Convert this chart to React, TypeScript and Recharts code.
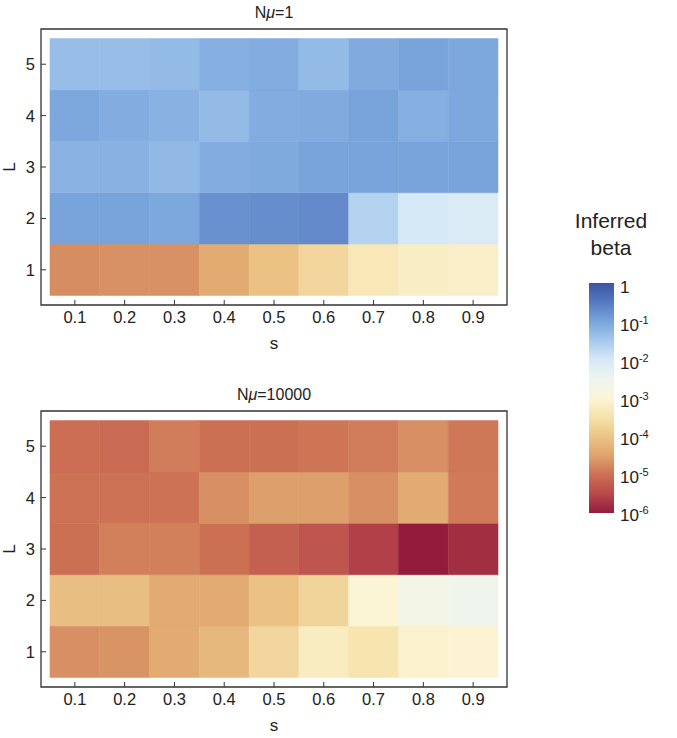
import { ScatterChart, Scatter, XAxis, YAxis, ReferenceArea } from 'recharts';

const FONT = '"Liberation Sans", Arial, Helvetica, sans-serif';

const S_VALUES = [0.1, 0.2, 0.3, 0.4, 0.5, 0.6, 0.7, 0.8, 0.9];
const L_VALUES = [1, 2, 3, 4, 5];

// log10(inferred beta), one row per L (1..5), one column per s
const LOG_BETA_NMU1 = [
  [-4.72, -4.68, -4.68, -4.4, -4.05, -3.7, -3.35, -3.2, -3.15],
  [-1.0, -1.0, -1.05, -0.78, -0.74, -0.7, -1.65, -2.0, -2.1],
  [-1.2, -1.18, -1.28, -1.12, -1.08, -1.0, -1.0, -1.0, -1.0],
  [-1.05, -1.12, -1.18, -1.3, -1.12, -1.1, -1.0, -1.15, -1.05],
  [-1.35, -1.35, -1.3, -1.15, -1.12, -1.3, -1.1, -1.0, -1.05],
];

const LOG_BETA_NMU10000 = [
  [-4.7, -4.65, -4.4, -4.2, -3.7, -3.25, -3.45, -3.1, -3.05],
  [-4.1, -4.1, -4.4, -4.4, -4.05, -3.75, -3.0, -2.7, -2.55],
  [-5.0, -4.85, -4.85, -5.0, -5.2, -5.35, -5.6, -6.0, -5.8],
  [-4.98, -4.98, -4.98, -4.7, -4.55, -4.55, -4.7, -4.4, -4.9],
  [-5.02, -5.08, -4.88, -5.0, -5.0, -4.95, -4.88, -4.7, -4.92],
];

const LEGEND_EXPONENTS = [0, -1, -2, -3, -4, -5, -6];

// colour map: log10 value -> colour
const COLOR_STOPS: [number, string][] = [
  [-6, '#931c3c'],
  [-5.5, '#b8494b'],
  [-5, '#cc7054'],
  [-4.5, '#dfa46d'],
  [-4, '#ecc587'],
  [-3.5, '#f6e2ab'],
  [-3, '#fbf5d6'],
  [-2.5, '#eef5ef'],
  [-2, '#d6e9f7'],
  [-1.5, '#a6c9ee'],
  [-1, '#78a4db'],
  [-0.5, '#5679c0'],
  [0, '#3c55a2'],
];

function hexToRgb(h: string) {
  const n = parseInt(h.slice(1), 16);
  return [(n >> 16) & 255, (n >> 8) & 255, n & 255];
}

function colorFor(v: number) {
  const c = Math.max(-6, Math.min(0, v));
  for (let i = 0; i < COLOR_STOPS.length - 1; i++) {
    const [v0, c0] = COLOR_STOPS[i];
    const [v1, c1] = COLOR_STOPS[i + 1];
    if (c >= v0 && c <= v1) {
      const t = (c - v0) / (v1 - v0);
      const a = hexToRgb(c0);
      const b = hexToRgb(c1);
      const m = a.map((x, k) => Math.round(x + (b[k] - x) * t));
      return `rgb(${m[0]},${m[1]},${m[2]})`;
    }
  }
  return COLOR_STOPS[COLOR_STOPS.length - 1][1];
}

const X_DOMAIN = [0.032, 0.968];
const Y_DOMAIN = [0.315, 5.685];

function XTick(props: any) {
  const { x, y, payload } = props;
  return (
    <g>
      <line x1={x} x2={x} y1={y} y2={y - 5} stroke="#333" strokeWidth={1} />
      <text x={x} y={y + 18} textAnchor="middle" fontSize={16.5} fill="#222" fontFamily={FONT}>
        {payload.value}
      </text>
    </g>
  );
}

function YTick(props: any) {
  const { x, y, payload } = props;
  return (
    <g>
      <line x1={x} x2={x + 5} y1={y} y2={y} stroke="#333" strokeWidth={1} />
      <text x={x - 6} y={y + 6} textAnchor="end" fontSize={16.5} fill="#222" fontFamily={FONT}>
        {payload.value}
      </text>
    </g>
  );
}

function Heatmap({ values }: { values: number[][] }) {
  const cells = L_VALUES.flatMap((L, r) =>
    S_VALUES.map((s, c) => ({ s, L, v: values[r][c] }))
  );
  return (
    <ScatterChart width={520} height={360} margin={{ top: 29, right: 13, left: 11, bottom: 25 }}>
      <XAxis
        type="number"
        dataKey="s"
        domain={X_DOMAIN}
        ticks={S_VALUES}
        allowDataOverflow
        axisLine={false}
        tickLine={false}
        tickSize={0}
        tickMargin={0}
        height={30}
        tick={<XTick />}
        interval={0}
      />
      <YAxis
        type="number"
        dataKey="L"
        domain={Y_DOMAIN}
        ticks={L_VALUES}
        allowDataOverflow
        axisLine={false}
        tickLine={false}
        tickSize={0}
        tickMargin={0}
        width={30}
        tick={<YTick />}
        interval={0}
      />
      {cells.map((d) => (
        <ReferenceArea
          key={`${d.s}-${d.L}`}
          x1={d.s - 0.05}
          x2={d.s + 0.05}
          y1={d.L - 0.5}
          y2={d.L + 0.5}
          fill={colorFor(d.v)}
          fillOpacity={1}
          stroke={colorFor(d.v)}
          strokeWidth={0.5}
        />
      ))}
      <ReferenceArea
        x1={X_DOMAIN[0]}
        x2={X_DOMAIN[1]}
        y1={Y_DOMAIN[0]}
        y2={Y_DOMAIN[1]}
        fill="none"
        fillOpacity={0}
        stroke="#333"
        strokeWidth={1.3}
      />
      <Scatter data={cells} isAnimationActive={false} shape={() => <g />} />
    </ScatterChart>
  );
}

function Titles() {
  const txt = { fontFamily: FONT, fill: '#222' };
  return (
    <svg width={677} height={738} style={{ position: 'absolute', left: 0, top: 0, pointerEvents: 'none' }}>
      <text x={274} y={18} textAnchor="middle" fontSize={16} {...txt}>
        N<tspan fontStyle="italic">μ</tspan>=1
      </text>
      <text x={274} y={349} textAnchor="middle" fontSize={17} {...txt}>s</text>
      <text transform="translate(15,167) rotate(-90)" textAnchor="middle" fontSize={17} {...txt}>L</text>

      <text x={274} y={400} textAnchor="middle" fontSize={16} {...txt}>
        N<tspan fontStyle="italic">μ</tspan>=10000
      </text>
      <text x={274} y={731} textAnchor="middle" fontSize={17} {...txt}>s</text>
      <text transform="translate(15,549) rotate(-90)" textAnchor="middle" fontSize={17} {...txt}>L</text>

      <text x={611} y={228} textAnchor="middle" fontSize={21} {...txt}>Inferred</text>
      <text x={611} y={255} textAnchor="middle" fontSize={21} {...txt}>beta</text>

      <defs>
        <linearGradient id="betaGrad" x1="0" y1="1" x2="0" y2="0">
          {COLOR_STOPS.map(([v, c]) => (
            <stop key={v} offset={(v + 6) / 6} stopColor={c} />
          ))}
        </linearGradient>
      </defs>
      <rect x={589} y={283} width={25} height={230} fill="url(#betaGrad)" />
      {LEGEND_EXPONENTS.map((e, i) => (
        <text key={e} x={620} y={287 + i * 38 + 6} fontSize={17} {...txt}>
          {e === 0 ? '1' : '10'}
          {e !== 0 && (
            <tspan dy={-7} fontSize={11}>
              {String(e)}
            </tspan>
          )}
        </text>
      ))}
    </svg>
  );
}

export default function App() {
  return (
    <div style={{ position: 'absolute', left: 0, top: 0, width: 677, height: 738, background: '#fff' }}>
      <div style={{ position: 'absolute', left: 0, top: 0 }}>
        <Heatmap values={LOG_BETA_NMU1} />
      </div>
      <div style={{ position: 'absolute', left: 0, top: 382 }}>
        <Heatmap values={LOG_BETA_NMU10000} />
      </div>
      <Titles />
    </div>
  );
}
